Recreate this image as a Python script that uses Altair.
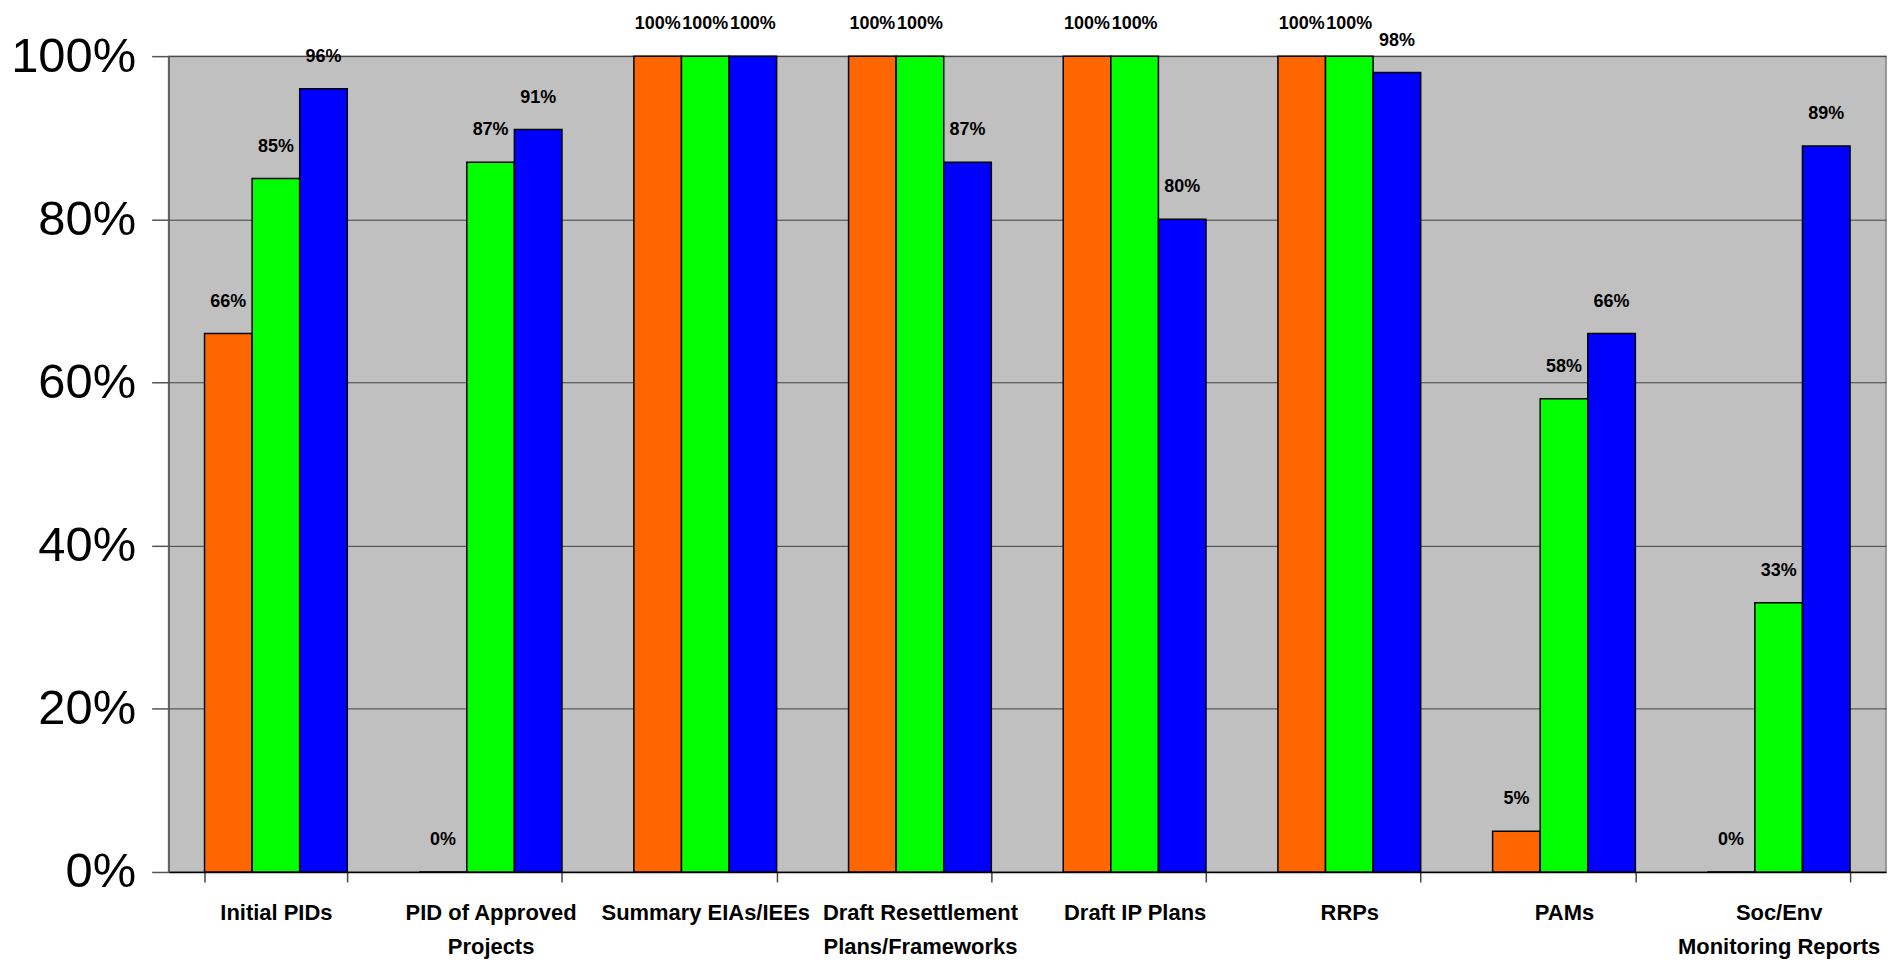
import altair as alt
import pandas as pd

categories = [
    "Initial PIDs",
    "PID of Approved|Projects",
    "Summary EIAs/IEEs",
    "Draft Resettlement|Plans/Frameworks",
    "Draft IP Plans",
    "RRPs",
    "PAMs",
    "Soc/Env|Monitoring Reports",
]
series = ["Series 1", "Series 2", "Series 3"]
series1 = [66, 0, 100, 100, 100, 100, 5, 0]
series2 = [85, 87, 100, 100, 100, 100, 58, 33]
series3 = [96, 91, 100, 87, 80, 98, 66, 89]
colors = ["#FF6600", "#00FF00", "#0000FF"]
y_ticks = [0, 20, 40, 60, 80, 100]

rows = []
for name, vals in zip(series, [series1, series2, series3]):
    for c, v in zip(categories, vals):
        rows.append({"cat": c, "series": name, "value": v, "label": f"{v}%"})
df = pd.DataFrame(rows)

FONT = "Liberation Sans"

x = alt.X(
    "cat:N",
    sort=categories,
    scale=alt.Scale(paddingInner=0.335, paddingOuter=0.1675),
    axis=alt.Axis(
        title=None,
        labelAngle=0,
        labelExpr="split(datum.label, '|')",
        labelFont=FONT,
        labelFontSize=22,
        labelFontWeight="bold",
        labelColor="black",
        labelLineHeight=34,
        labelPadding=21,
        labelLimit=0,
        labelOverlap=False,
        labelBound=False,
        labelBaseline="top",
        tickBand="extent",
        tickSize=10,
        tickColor="#444444",
        tickWidth=1.5,
        domainColor="black",
        domainWidth=1.5,
        grid=False,
    ),
)
xoff = alt.XOffset(
    "series:N", sort=series, scale=alt.Scale(paddingInner=0, paddingOuter=0)
)
y = alt.Y(
    "value:Q",
    scale=alt.Scale(domain=[0, 100], nice=False),
    axis=alt.Axis(
        title=None,
        values=y_ticks,
        labelExpr="datum.value + '%'",
        labelFont=FONT,
        labelFontSize=49,
        labelColor="black",
        labelPadding=16,
        tickSize=17,
        tickColor="#555555",
        tickWidth=1.5,
        domainColor="#555555",
        domainWidth=1.5,
        grid=True,
        gridColor="#404040",
        gridWidth=1,
    ),
)
color = alt.Color(
    "series:N", sort=series, scale=alt.Scale(domain=series, range=colors), legend=None
)

bars = alt.Chart(df).mark_bar(stroke="black", strokeWidth=1.5).encode(
    x=x, xOffset=xoff, y=y, color=color
)
text = alt.Chart(df).mark_text(
    font=FONT, fontSize=18, fontWeight="bold", color="black",
    baseline="alphabetic", align="center", dy=-27,
).encode(x=x, xOffset=xoff, y=y, text="label:N")

chart = (
    alt.layer(bars, text)
    .properties(
        width=1722,
        height=818,
        background="white",
        autosize=alt.AutoSizeParams(type="none"),
        padding={"left": 161, "top": 47, "right": 1, "bottom": 90},
    )
    .configure_view(fill="#C0C0C0", stroke="#808080", strokeWidth=1.5)
)

chart.save("out.html", embed_options={"renderer": "svg", "actions": False})
